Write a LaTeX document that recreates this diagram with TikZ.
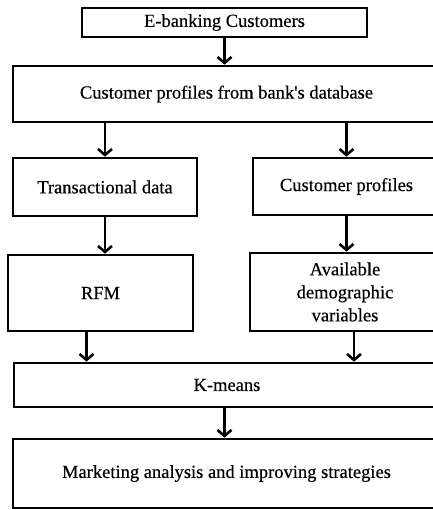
\documentclass[tikz,border=0pt]{standalone}
\usepackage{fontspec}
\setmainfont{Liberation Serif}[Ligatures=TeXOff, FakeBold=0.4]
\usepackage{tikz}
\usetikzlibrary{arrows.meta}

\begin{document}
\begin{tikzpicture}[
    x=1pt,
    y=-1pt,
    box/.style={
        draw,
        line width=2.6pt,
        align=center,
        inner sep=0pt,
        font=\fontsize{18.5pt}{23pt}\selectfont
    },
    arrow/.style={
        -{Straight Barb[length=6pt,width=14pt]},
        line width=2.6pt,
        black
    }
]
    \useasboundingbox (0,0) rectangle (432,510);
    \node[box, minimum width=285pt, minimum height=29pt] (customers) at (224.5,22.5) {E-banking Customers};
    \node[box, minimum width=427pt, minimum height=56pt] (database) at (226.5,94) {Customer profiles from bank's database};
    \node[box, minimum width=184pt, minimum height=58pt] (transactional) at (105,187) {Transactional data};
    \node[box, minimum width=187pt, minimum height=57pt] (profiles) at (346.5,186.5) {Customer profiles};
    \node[box, minimum width=185pt, minimum height=76pt] (rfm) at (100.5,293) {RFM};
    \node[box, minimum width=190pt, minimum height=78pt] (demographic) at (345,292) {Available\\demographic\\variables};
    \node[box, minimum width=426pt, minimum height=44pt] (kmeans) at (227,385) {K-means};
    \node[box, minimum width=427pt, minimum height=69pt] (marketing) at (226.5,473.5) {Marketing analysis and improving strategies};
    \draw[arrow] (customers) -- (customers.south |- database.north);
    \draw[arrow] (transactional.north |- database.south) -- (transactional);
    \draw[arrow] (profiles.north |- database.south) -- (profiles);
    \draw[arrow] (transactional) -- (transactional.south |- rfm.north);
    \draw[arrow] (profiles) -- (profiles.south |- demographic.north);
    \draw[arrow] ([xshift=-14pt]rfm.south) -- ([xshift=-14pt]rfm.south |- kmeans.north);
    \draw[arrow] ([xshift=9pt]demographic.south) -- ([xshift=9pt]demographic.south |- kmeans.north);
    \draw[arrow] (kmeans.south -| customers.south) -- (customers.south |- marketing.north);
\end{tikzpicture}
\end{document}
